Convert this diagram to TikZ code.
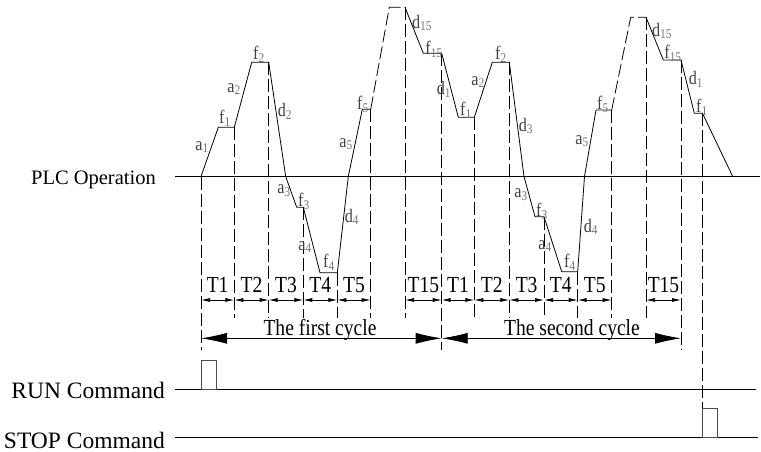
\documentclass[tikz,border=0pt]{standalone}
\usepackage{fontspec}
\setmainfont{Liberation Serif}
\newfontfamily\narrowfont[FakeStretch=0.85]{Liberation Serif}
\usepackage{xcolor}
\usepackage{tikz}
\usetikzlibrary{arrows.meta}
\newcommand{\lblsub}[2]{#1\textsubscript{\color{black!55}#2}}
\tikzset{
  curve/.style={line width=0.8pt, line join=miter},
  guide/.style={dash pattern=on 13pt off 4pt, line width=0.8pt},
  dashcurve/.style={dash pattern=on 13pt off 4pt, line width=0.8pt},
  tarrow/.style={{Latex[length=9pt,width=4pt]}-{Latex[length=9pt,width=4pt]}, line width=0.7pt},
  cyclearrow/.style={{Latex[length=26pt,width=11pt]}-{Latex[length=26pt,width=11pt]}, line width=0.8pt},
  lbl/.style={inner sep=0pt, text=black!75, font=\narrowfont\fontsize{19}{20}\selectfont},
  tlabel/.style={inner sep=0pt, anchor=base, font=\narrowfont\fontsize{23}{24}\selectfont},
  cmd/.style={inner sep=0pt, anchor=base east, font=\fontsize{23.5}{25}\selectfont},
  pulse/.style={draw=black!70, line width=0.8pt},
  baseline/.style={line width=0.8pt},
}

\begin{document}
\begin{tikzpicture}[x=1pt, y=-1pt]
  \useasboundingbox (0,0) rectangle (761,452);

  % --- Signal names and base lines ---
  \node[cmd, font=\fontsize{20.5}{22}\selectfont] (plc) at (156,184.5) {PLC Operation};
  \node[cmd] (run)  at (165,398.3) {RUN Command};
  \node[cmd] (stop) at (165,448.4) {STOP Command};
  \coordinate (plcend)  at (760,176.5);
  \coordinate (runend)  at (756,389.3);
  \coordinate (stopend) at (758,437.7);
  \draw[baseline] (175,176.5) -- (plcend);
  \draw[baseline] (175,389.3) -- (runend);
  \draw[baseline] (175,437.7) -- (stopend);

  % --- Dashed guide lines (index/x/top/bottom) ---
  \foreach \n/\x/\top/\bot in {1/201/176.5/350, 2/234.3/127.3/318, 3/268.7/62.3/318,
      4/303.3/207.3/318, 5/337.3/272.7/318, 6/370.7/109.3/318, 7/405/7.3/318,
      8/441.7/53.3/350, 9/474.3/117.3/318, 10/509.3/62.3/318, 11/544/216.7/318,
      12/577.7/271.7/318, 13/611.7/110/318, 14/646/17.3/318, 15/681/60/350,
      16/702.5/113.3/408.7} {
    \coordinate (top\n) at (\x,\top);
    \coordinate (bot\n) at (\x,\bot);
    \coordinate (t\n) at (\x,300);
    \coordinate (c\n) at (\x,338.3);
    \draw[guide] (top\n) -- (bot\n);
  }

  % --- Speed curve, first cycle ---
  \draw[curve] (201,176.5) -- (218.3,127.3) -- (234.3,127.3) -- (251.7,62.3) -- (268.7,62.3)
    -- (285.7,176.5) -- (296.7,207.3) -- (303.3,207.3) -- (320,272.7) -- (337.3,272.7)
    -- (348.3,176.5) -- (362.3,109.3) -- (370.7,109.3);
  \draw[dashcurve] (370.7,109.3) -- (389.3,7.3) -- (405,7.3);

  % --- Speed curve, second cycle ---
  \draw[curve] (405,7.3) -- (423.3,53.3) -- (441.7,53.3) -- (458.3,117.3) -- (474.3,117.3)
    -- (492.3,62.3) -- (509.3,62.3) -- (524,176.5) -- (535,216.7) -- (544,216.7)
    -- (561.7,271.7) -- (577.7,271.7) -- (584.5,176.5) -- (596,110) -- (611.7,110);
  \draw[dashcurve] (611.7,110) -- (630.7,17.3) -- (646,17.3);
  \draw[curve] (646,17.3) -- (663.3,60) -- (681,60) -- (694.3,113.3) -- (702.5,113.3)
    -- (732.7,176.5);

  % --- Curve labels ---
  \foreach \x/\y/\c/\s in {202/147/a/1, 225/118/f/1, 234/89/a/2, 259/54/f/2, 285/111/d/2,
      284/191/a/3, 304/201/f/3, 305/247/a/4, 329/262/f/4, 352/217/d/4, 346/144/a/5,
      363/104/f/5, 422/23/d/15, 434/49/f/15, 444/89/d/1, 466/110/f/1, 478/82/a/2,
      501/54/f/2, 526/126/d/3, 521/195/a/3, 542/211/f/3, 545/246/a/4, 570/262/f/4,
      591/227/d/4, 582/141/a/5, 603/104/f/5, 662/31/d/15, 673/53/f/15, 696/79/d/1,
      702/107/f/1} {
    \node[lbl] (lab\c\s-\x) at (\x,\y) {\lblsub{\c}{\s}};
  }

  % --- Step times ---
  \foreach \a/\b/\lab in {1/2/T1, 2/3/T2, 3/4/T3, 4/5/T4, 5/6/T5, 7/8/T15,
      8/9/T1, 9/10/T2, 10/11/T3, 11/12/T4, 12/13/T5, 14/15/T15} {
    \draw[tarrow] (t\a) -- (t\b) node[tlabel, midway, yshift=7.8pt] (step\a) {\lab};
  }

  % --- Cycles ---
  \draw[cyclearrow] (c1) -- (c8);
  \draw[cyclearrow] (c8) -- (c15);
  \node[tlabel] (first)  at (320,335) {The first cycle};
  \node[tlabel] (second) at (572,335) {The second cycle};

  % --- Command pulses ---
  \draw[pulse] (201.5,389.3) rectangle (216.5,360.7);
  \draw[pulse] (702.5,437.7) rectangle (717.7,408.7);

\end{tikzpicture}
\end{document}
